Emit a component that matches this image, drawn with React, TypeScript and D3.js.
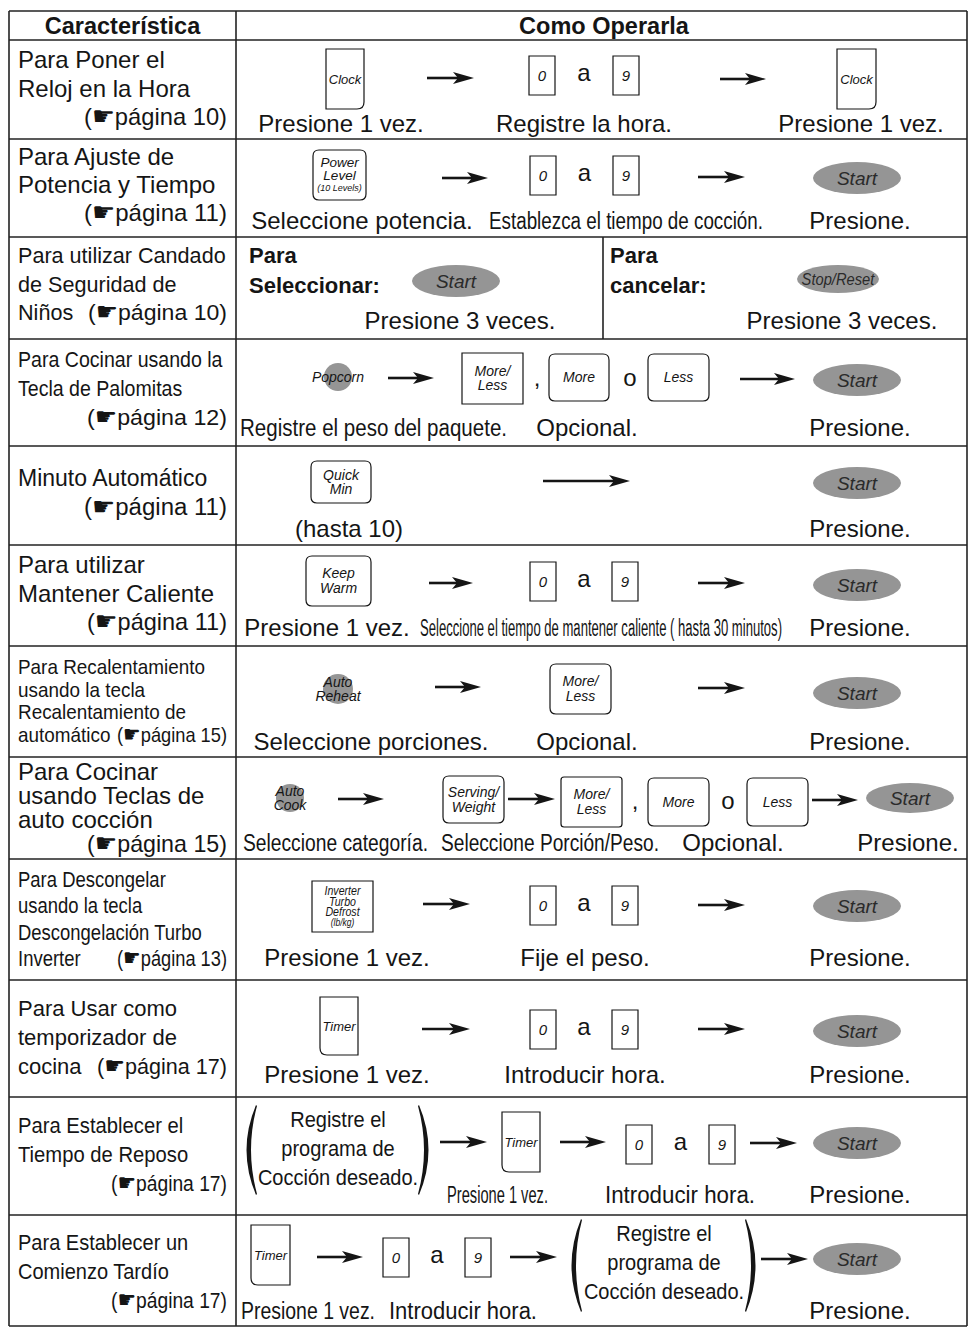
import React from 'react';
import * as d3 from 'd3';

// ---- content ----
const headers = ['Característica', 'Como Operarla'];
const featureLines = [
  ['Para Poner el', 'Reloj en la Hora'],
  ['Para Ajuste de', 'Potencia y Tiempo'],
  ['Para utilizar Candado', 'de Seguridad de', 'Niños'],
  ['Para Cocinar usando la', 'Tecla de Palomitas'],
  ['Minuto Automático'],
  ['Para utilizar', 'Mantener Caliente'],
  ['Para Recalentamiento', 'usando la tecla', 'Recalentamiento de', 'automático'],
  ['Para Cocinar', 'usando Teclas de', 'auto cocción'],
  ['Para Descongelar', 'usando la tecla', 'Descongelación Turbo', 'Inverter'],
  ['Para Usar como', 'temporizador de', 'cocina'],
  ['Para Establecer el', 'Tiempo de Reposo'],
  ['Para Establecer un', 'Comienzo Tardío'],
];
const pageRefs = [10, 11, 10, 12, 11, 11, 15, 15, 13, 17, 17, 17];
const captions = [
  ['Presione 1 vez.', 'Registre la hora.', 'Presione 1 vez.'],
  ['Seleccione potencia.', 'Establezca el tiempo de cocción.', 'Presione.'],
  ['Presione 3 veces.', 'Presione 3 veces.'],
  ['Registre el peso del paquete.', 'Opcional.', 'Presione.'],
  ['(hasta 10)', 'Presione.'],
  ['Presione 1 vez.', 'Seleccione el tiempo de mantener caliente ( hasta 30 minutos)', 'Presione.'],
  ['Seleccione porciones.', 'Opcional.', 'Presione.'],
  ['Seleccione categoría.', 'Seleccione Porción/Peso.', 'Opcional.', 'Presione.'],
  ['Presione 1 vez.', 'Fije el peso.', 'Presione.'],
  ['Presione 1 vez.', 'Introducir hora.', 'Presione.'],
  ['Presione 1 vez.', 'Introducir hora.', 'Presione.'],
  ['Presione 1 vez.', 'Introducir hora.', 'Presione.'],
];
const lockLabels = [['Para', 'Seleccionar:'], ['Para', 'cancelar:']];
const programLines = ['Registre el', 'programa de', 'Cocción deseado.'];
const keyClock = ['Clock'];
const keyPower = ['Power', 'Level', '(10 Levels)'];
const keyMoreLess = ['More/', 'Less'];
const keyQuick = ['Quick', 'Min'];
const keyWarm = ['Keep', 'Warm'];
const keyServing = ['Serving/', 'Weight'];
const keyDefrost = ['Inverter', 'Turbo', 'Defrost', '(lb/kg)'];
const keyTimer = ['Timer'];
const padReheat = ['Auto', 'Reheat'];
const padCook = ['Auto', 'Cook'];

// ---- layout ----
const W = 969;
const H = 1327;
const FONT = "'Liberation Sans', Arial, Helvetica, sans-serif";
const INK = '#151515';
const GRAY = '#959595';
const xLeft = 9, xMid = 236, xRight = 967, yTop = 11, xLock = 603;
const rowEdges = [40, 139, 237, 339, 446, 545, 646, 757, 859, 980, 1097, 1215, 1326];
const featBase = [68, 165, 263, 367, 486, 573, 674, 780, 887, 1016, 1133, 1250];
const featStep = [28.5, 28, 28.5, 29, 29, 28.5, 22.7, 24, 26.3, 29, 29, 29];
const featFont = [24, 24, 22.5, 22, 23, 24, 21, 24, 22, 22, 22, 22];
const featSx = [1, 1, 0.96, 0.89, 1, 1, 0.9, 1, 0.84, 1, 0.92, 0.91];
const refOwnLine = [true, true, false, true, true, true, false, true, false, false, true, true];
const refWidth = [143, 143, 139, 140, 143, 140, 110, 140, 110, 130, 116, 116];

function Txt({ x, y, t, fs = 24, sx = 1, anchor = 'start', bold = false, italic = false, fill = INK, w = 0 }: any) {
  if (w) {
    return (
      <text x={x} y={y} fontSize={fs} textLength={w} lengthAdjust="spacingAndGlyphs" fill={fill}
        fontWeight={bold ? 'bold' : 'normal'} fontStyle={italic ? 'italic' : 'normal'}>{t}</text>
    );
  }
  return (
    <text transform={`translate(${x},${y}) scale(${sx},1)`} textAnchor={anchor} fontSize={fs} fill={fill}
      fontWeight={bold ? 'bold' : 'normal'} fontStyle={italic ? 'italic' : 'normal'}>{t}</text>
  );
}

function Ref({ right, y, page, fs, w }: any) {
  return (
    <text x={right - w} y={y} fontSize={fs} textLength={w} lengthAdjust="spacingAndGlyphs" fill={INK}>
      (<tspan fontFamily="'DejaVu Sans'" fontSize={fs * 1.08}>☛</tspan>página {page})
    </text>
  );
}

function keyPath(x: number, y: number, w: number, h: number, shape: string) {
  const p = d3.path();
  if (shape === 'round' || shape === 'soft') {
    const r = shape === 'round' ? 6 : 3;
    p.moveTo(x + r, y);
    p.lineTo(x + w - r, y);
    p.quadraticCurveTo(x + w, y, x + w, y + r);
    p.lineTo(x + w, y + h - r);
    p.quadraticCurveTo(x + w, y + h, x + w - r, y + h);
    p.lineTo(x + r, y + h);
    p.quadraticCurveTo(x, y + h, x, y + h - r);
    p.lineTo(x, y + r);
    p.quadraticCurveTo(x, y, x + r, y);
  } else if (shape === 'br') {
    p.moveTo(x, y);
    p.lineTo(x + w, y);
    p.lineTo(x + w, y + h - 7);
    p.quadraticCurveTo(x + w, y + h, x + w - 7, y + h);
    p.lineTo(x, y + h);
  } else if (shape === 'bl') {
    p.moveTo(x, y);
    p.lineTo(x + w, y);
    p.lineTo(x + w, y + h);
    p.lineTo(x + 7, y + h);
    p.quadraticCurveTo(x, y + h, x, y + h - 7);
  } else {
    p.rect(x, y, w, h);
  }
  p.closePath();
  return p.toString();
}

function Key({ x, y, w, h, lines, shape = 'round', fs = 13, sizes = null, lh = 14, sx = 1 }: any) {
  const cy = y + h / 2 - ((lines.length - 1) * lh) / 2;
  return (
    <g>
      <path d={keyPath(x, y, w, h, shape)} fill="#fff" stroke={INK} strokeWidth={1.2} />
      {lines.map((t: string, i: number) => {
        const f = sizes ? sizes[i] : fs;
        return <Txt key={i} x={x + w / 2} y={cy + i * lh + f * 0.35} t={t} fs={f} sx={sx} anchor="middle" italic />;
      })}
    </g>
  );
}

function Digits({ x1, x2, y }: any) {
  return (
    <g>
      <Key x={x1} y={y} w={26} h={39} lines={['0']} shape="square" fs={15} />
      <Txt x={(x1 + 26 + x2) / 2} y={y + 25} t="a" fs={24} anchor="middle" />
      <Key x={x2} y={y} w={26} h={39} lines={['9']} shape="square" fs={15} />
    </g>
  );
}

function Arrow({ x1, x2, y }: any) {
  const p = d3.path();
  p.moveTo(x2, y);
  p.lineTo(x2 - 21, y - 6);
  p.lineTo(x2 - 16, y);
  p.lineTo(x2 - 21, y + 6);
  p.closePath();
  return (
    <g>
      <line x1={x1} x2={x2 - 15} y1={y} y2={y} stroke={INK} strokeWidth={2.6} />
      <path d={p.toString()} fill={INK} />
    </g>
  );
}

function Pill({ cx, cy, label = 'Start', rx = 44, ry = 16, fs = 19, sx = 1 }: any) {
  return (
    <g>
      <ellipse cx={cx} cy={cy} rx={rx} ry={ry} fill={GRAY} />
      <Txt x={cx} y={cy + fs * 0.35} t={label} fs={fs} sx={sx} anchor="middle" italic fill="#2a2a2a" />
    </g>
  );
}

function Pad({ cx, cy, r = 14, lines, fs = 14, dx = 0 }: any) {
  const lh = 14;
  const y0 = cy - ((lines.length - 1) * lh) / 2;
  return (
    <g>
      <circle cx={cx} cy={cy} r={r} fill={GRAY} />
      {lines.map((t: string, i: number) => (
        <Txt key={i} x={cx + dx} y={y0 + i * lh + fs * 0.35} t={t} fs={fs} anchor="middle" italic />
      ))}
    </g>
  );
}

function Paren({ x, y1, y2, right = false }: any) {
  const m = (y1 + y2) / 2;
  const p = d3.path();
  if (!right) {
    p.moveTo(x + 13, y1);
    p.quadraticCurveTo(x - 6, m, x + 13, y2);
    p.lineTo(x + 14, y2 - 1);
    p.quadraticCurveTo(x + 2, m, x + 14, y1 + 1);
  } else {
    p.moveTo(x, y1);
    p.quadraticCurveTo(x + 19, m, x, y2);
    p.lineTo(x - 1, y2 - 1);
    p.quadraticCurveTo(x + 11, m, x - 1, y1 + 1);
  }
  p.closePath();
  return <path d={p.toString()} fill={INK} />;
}

function Program({ x1, x2, y1, y2 }: any) {
  const cx = (x1 + 8 + x2 + 6) / 2;
  return (
    <g>
      <Paren x={x1} y1={y1} y2={y2} />
      {programLines.map((t, i) => (
        <Txt key={i} x={cx} y={y1 + 22 + i * 29} t={t} fs={22.5} sx={0.89} anchor="middle" />
      ))}
      <Paren x={x2} y1={y1} y2={y2} right />
    </g>
  );
}

// caption centred at x, or squeezed between x and x + w
const C = (row: number, i: number, x: number, y: number, w = 0) =>
  w ? <Txt key={`c${row}${i}`} x={x} y={y} t={captions[row][i]} fs={23} w={w} />
    : <Txt key={`c${row}${i}`} x={x} y={y} t={captions[row][i]} fs={24} anchor="middle" />;

export default function App() {
  const rows = d3.pairs([yTop, ...rowEdges]);
  return (
    <svg width={W} height={H} fontFamily={FONT} style={{ position: 'absolute', left: 0, top: 0, background: '#fff' }}>
      {/* grid */}
      <g stroke="#222" strokeWidth={1.6}>
        {[yTop, ...rowEdges].map((y) => (
          <line key={y} x1={xLeft} x2={xRight} y1={y} y2={y} />
        ))}
        {[xLeft, xMid, xRight].map((x) => (
          <line key={x} x1={x} x2={x} y1={yTop} y2={rowEdges[rowEdges.length - 1]} />
        ))}
        <line x1={xLock} x2={xLock} y1={rows[3][0]} y2={rows[3][1]} />
      </g>

      {/* header */}
      <Txt x={(xLeft + xMid) / 2} y={(rows[0][0] + rows[0][1]) / 2 + 8} t={headers[0]} fs={23.5} bold anchor="middle" />
      <Txt x={604} y={(rows[0][0] + rows[0][1]) / 2 + 8} t={headers[1]} fs={23.5} bold anchor="middle" />

      {/* feature column */}
      {featureLines.map((lines, r) => {
        const fs = featFont[r];
        const last = refOwnLine[r] ? lines.length : lines.length - 1;
        return (
          <g key={r}>
            {lines.map((t, i) => (
              <Txt key={i} x={18} y={featBase[r] + i * featStep[r]} t={t} fs={fs} sx={featSx[r]} />
            ))}
            <Ref right={227} y={featBase[r] + last * featStep[r]} page={pageRefs[r]} fs={fs} w={refWidth[r]} />
          </g>
        );
      })}

      {/* 1 clock */}
      <Key x={326} y={49} w={38} h={60} lines={keyClock} shape="br" />
      <Arrow x1={427} x2={474} y={78} />
      <Digits x1={529} x2={613} y={56} />
      <Arrow x1={720} x2={766} y={79} />
      <Key x={837} y={49} w={39} h={60} lines={keyClock} shape="br" />
      {C(0, 0, 341, 132)}{C(0, 1, 584, 132)}{C(0, 2, 861, 132)}

      {/* 2 power */}
      <Key x={313} y={150} w={53} h={50} lines={keyPower} sizes={[13.5, 13.5, 9]} lh={13} />
      <Arrow x1={442} x2={488} y={178} />
      <Digits x1={530} x2={613} y={156} />
      <Arrow x1={698} x2={745} y={177} />
      <Pill cx={857} cy={178} />
      {C(1, 0, 362, 229)}{C(1, 1, 489, 229, 274)}{C(1, 2, 860, 229)}

      {/* 3 child lock */}
      <Txt x={249} y={263} t={lockLabels[0][0]} fs={22} bold />
      <Txt x={249} y={293} t={lockLabels[0][1]} fs={22} bold />
      <Pill cx={456} cy={281} />
      {C(2, 0, 460, 329)}
      <Txt x={610} y={263} t={lockLabels[1][0]} fs={22} bold />
      <Txt x={610} y={293} t={lockLabels[1][1]} fs={22} bold />
      <Pill cx={838} cy={279} rx={41} ry={14} label="Stop/Reset" fs={16} sx={0.92} />
      {C(2, 1, 842, 329)}

      {/* 4 popcorn */}
      <Pad cx={338} cy={377} lines={['Popcorn']} />
      <Arrow x1={388} x2={434} y={378} />
      <Key x={462} y={353} w={61} h={51} lines={keyMoreLess} shape="square" fs={14} />
      <Txt x={537} y={386} t="," fs={24} anchor="middle" />
      <Key x={549} y={354} w={60} h={47} lines={['More']} fs={14} />
      <Txt x={630} y={386} t="o" fs={24} anchor="middle" />
      <Key x={648} y={354} w={61} h={47} lines={['Less']} fs={14} />
      <Arrow x1={740} x2={795} y={379} />
      <Pill cx={857} cy={380} />
      {C(3, 0, 240, 436, 267)}{C(3, 1, 587, 436)}{C(3, 2, 860, 436)}

      {/* 5 quick min */}
      <Key x={311} y={461} w={60} h={42} lines={keyQuick} fs={14} />
      <Arrow x1={543} x2={630} y={481} />
      <Pill cx={857} cy={483} />
      {C(4, 0, 349, 537)}{C(4, 1, 860, 537)}

      {/* 6 keep warm */}
      <Key x={306} y={556} w={65} h={50} lines={keyWarm} fs={14} lh={15} />
      <Arrow x1={429} x2={473} y={583} />
      <Digits x1={530} x2={612} y={562} />
      <Arrow x1={698} x2={745} y={583} />
      <Pill cx={857} cy={585} />
      {C(5, 0, 327, 636)}{C(5, 1, 420, 636, 362)}{C(5, 2, 860, 636)}

      {/* 7 auto reheat */}
      <Pad cx={338} cy={689} r={15} lines={padReheat} />
      <Arrow x1={435} x2={481} y={687} />
      <Key x={550} y={664} w={61} h={50} lines={keyMoreLess} fs={14} lh={15} />
      <Arrow x1={698} x2={745} y={688} />
      <Pill cx={857} cy={693} />
      {C(6, 0, 371, 750)}{C(6, 1, 587, 750)}{C(6, 2, 860, 750)}

      {/* 8 auto cook */}
      <Pad cx={290} cy={798} lines={padCook} />
      <Arrow x1={338} x2={384} y={799} />
      <Key x={443} y={776} w={61} h={47} lines={keyServing} fs={14} lh={15} />
      <Arrow x1={508} x2={555} y={799} />
      <Key x={561} y={777} w={61} h={50} lines={keyMoreLess} shape="soft" fs={14} lh={15} />
      <Txt x={635} y={809} t="," fs={24} anchor="middle" />
      <Key x={648} y={778} w={61} h={48} lines={['More']} fs={14} />
      <Txt x={728} y={809} t="o" fs={24} anchor="middle" />
      <Key x={747} y={778} w={61} h={48} lines={['Less']} fs={14} />
      <Arrow x1={812} x2={858} y={800} />
      <Pill cx={910} cy={798} rx={44} ry={15} />
      {C(7, 0, 243, 851, 185)}{C(7, 1, 441, 851, 218)}{C(7, 2, 733, 851)}{C(7, 3, 908, 851)}

      {/* 9 defrost */}
      <Key x={312} y={881} w={61} h={51} lines={keyDefrost} shape="square" sizes={[12.5, 12.5, 12.5, 10]} lh={10.5} sx={0.85} />
      <Arrow x1={423} x2={470} y={904} />
      <Digits x1={530} x2={612} y={886} />
      <Arrow x1={698} x2={745} y={905} />
      <Pill cx={857} cy={906} />
      {C(8, 0, 347, 966)}{C(8, 1, 585, 966)}{C(8, 2, 860, 966)}

      {/* 10 timer */}
      <Key x={320} y={997} w={38} h={58} lines={keyTimer} shape="bl" />
      <Arrow x1={422} x2={470} y={1029} />
      <Digits x1={530} x2={612} y={1010} />
      <Arrow x1={698} x2={745} y={1029} />
      <Pill cx={857} cy={1031} />
      {C(9, 0, 347, 1083)}{C(9, 1, 585, 1083)}{C(9, 2, 860, 1083)}

      {/* 11 standing time */}
      <Program x1={243} x2={419} y1={1105} y2={1195} />
      <Arrow x1={440} x2={487} y={1142} />
      <Key x={502} y={1112} w={38} h={60} lines={keyTimer} shape="bl" />
      <Arrow x1={560} x2={606} y={1142} />
      <Digits x1={626} x2={709} y={1125} />
      <Arrow x1={750} x2={797} y={1143} />
      <Pill cx={857} cy={1143} />
      {C(10, 0, 447, 1203, 101)}{C(10, 1, 605, 1203, 150)}{C(10, 2, 860, 1203)}

      {/* 12 delay start */}
      <Key x={251} y={1225} w={39} h={60} lines={keyTimer} shape="bl" />
      <Arrow x1={317} x2={363} y={1257} />
      <Digits x1={383} x2={465} y={1238} />
      <Arrow x1={510} x2={557} y={1257} />
      <Program x1={568} x2={746} y1={1219} y2={1312} />
      <Arrow x1={761} x2={808} y={1259} />
      <Pill cx={857} cy={1259} />
      {C(11, 0, 241, 1319, 134)}{C(11, 1, 389, 1319, 148)}{C(11, 2, 860, 1319)}
    </svg>
  );
}
